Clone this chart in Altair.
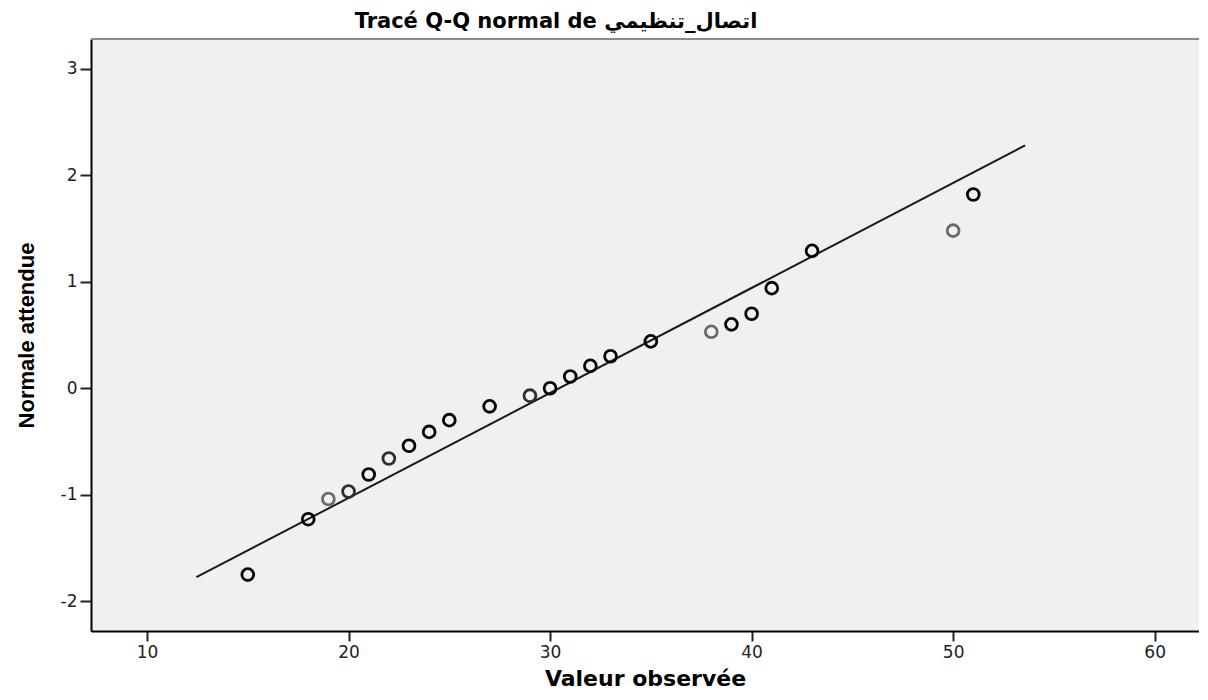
import altair as alt
import pandas as pd

# Observed values and expected normal quantiles
observed = [15, 18, 19, 20, 21, 22, 23, 24, 25, 27, 29, 30, 31, 32, 33, 35, 38, 39, 40, 41, 43, 50, 51]
expected = [-1.75, -1.23, -1.04, -0.97, -0.81, -0.66, -0.54, -0.41, -0.30, -0.17, -0.07, 0.0,
            0.11, 0.21, 0.30, 0.44, 0.53, 0.60, 0.70, 0.94, 1.29, 1.48, 1.82]
shade = ["dark", "dark", "light", "medium", "dark", "medium", "dark", "dark", "dark", "dark", "medium",
         "dark", "dark", "dark", "dark", "dark", "light", "dark", "dark", "dark", "dark", "light", "dark"]

# Reference line endpoints
line_x = [12.45, 53.57]
line_y = [-1.775, 2.28]

x_ticks = [10, 20, 30, 40, 50, 60]
y_ticks = [-2, -1, 0, 1, 2, 3]

title_text = "Tracé Q-Q normal de اتصال_تنظيمي"
x_title = "Valeur observée"
y_title = "Normale attendue"

pts = pd.DataFrame({"obs": observed, "exp": expected, "shade": shade})
ln = pd.DataFrame({"obs": line_x, "exp": line_y})

W, H = 1108, 592

xs = alt.Scale(domain=[7.22, 62.2], nice=False, zero=False)
ys = alt.Scale(domain=[-2.28, 3.28], nice=False, zero=False)

xaxis = alt.Axis(values=x_ticks, title=x_title, grid=False, titleFont="DejaVu Sans",
                 titleFontSize=22, titleFontWeight="bold", titleColor="#000",
                 titleBaseline="alphabetic", titleY=54, titlePadding=0,
                 tickSize=10, labelPadding=3, labelExpr="'' + datum.value")
yaxis = alt.Axis(values=y_ticks, title=y_title, grid=False,
                 titleFont="Liberation Sans Narrow, Liberation Sans", titleFontSize=22,
                 titleFontWeight="bold", titleColor="#000", titleAngle=-90,
                 titleBaseline="alphabetic", titleX=-58, titlePadding=0,
                 tickSize=11, labelPadding=3, labelExpr="'' + datum.value")

line = alt.Chart(ln).mark_line(color="#1a1a1a", strokeWidth=2).encode(
    x=alt.X("obs:Q", scale=xs, axis=xaxis),
    y=alt.Y("exp:Q", scale=ys, axis=yaxis),
)

points = alt.Chart(pts).mark_point(shape="circle", filled=False, size=140, strokeWidth=2.8, opacity=1).encode(
    x=alt.X("obs:Q", scale=xs),
    y=alt.Y("exp:Q", scale=ys),
    color=alt.Color("shade:N", scale=alt.Scale(domain=["dark", "medium", "light"],
                                              range=["#050505", "#2e2e2e", "#6a6a6a"]), legend=None),
)

top_border = alt.Chart(pd.DataFrame({"k": [0]})).mark_rule(color="#8a8a8a", strokeWidth=2).encode(
    x=alt.value(0), x2=alt.value(W), y=alt.value(0)
)

chart = alt.layer(top_border, line, points).properties(
    width=W, height=H,
    title=alt.TitleParams(title_text, font="DejaVu Sans", fontSize=21, fontWeight="bold",
                          color="#000", anchor="middle", dx=-89, offset=6),
    autosize=alt.AutoSizeParams(type="none"),
    padding={"left": 83, "top": 31, "right": 0, "bottom": 61},
).configure_view(
    fill="#f0f0f0", stroke=None
).configure_axis(
    domainColor="#000", domainWidth=2, tickColor="#222", tickWidth=2,
    labelFont="DejaVu Sans", labelFontSize=17, labelColor="#222",
)

chart.save("out.html", embed_options={"renderer": "svg", "actions": False})
